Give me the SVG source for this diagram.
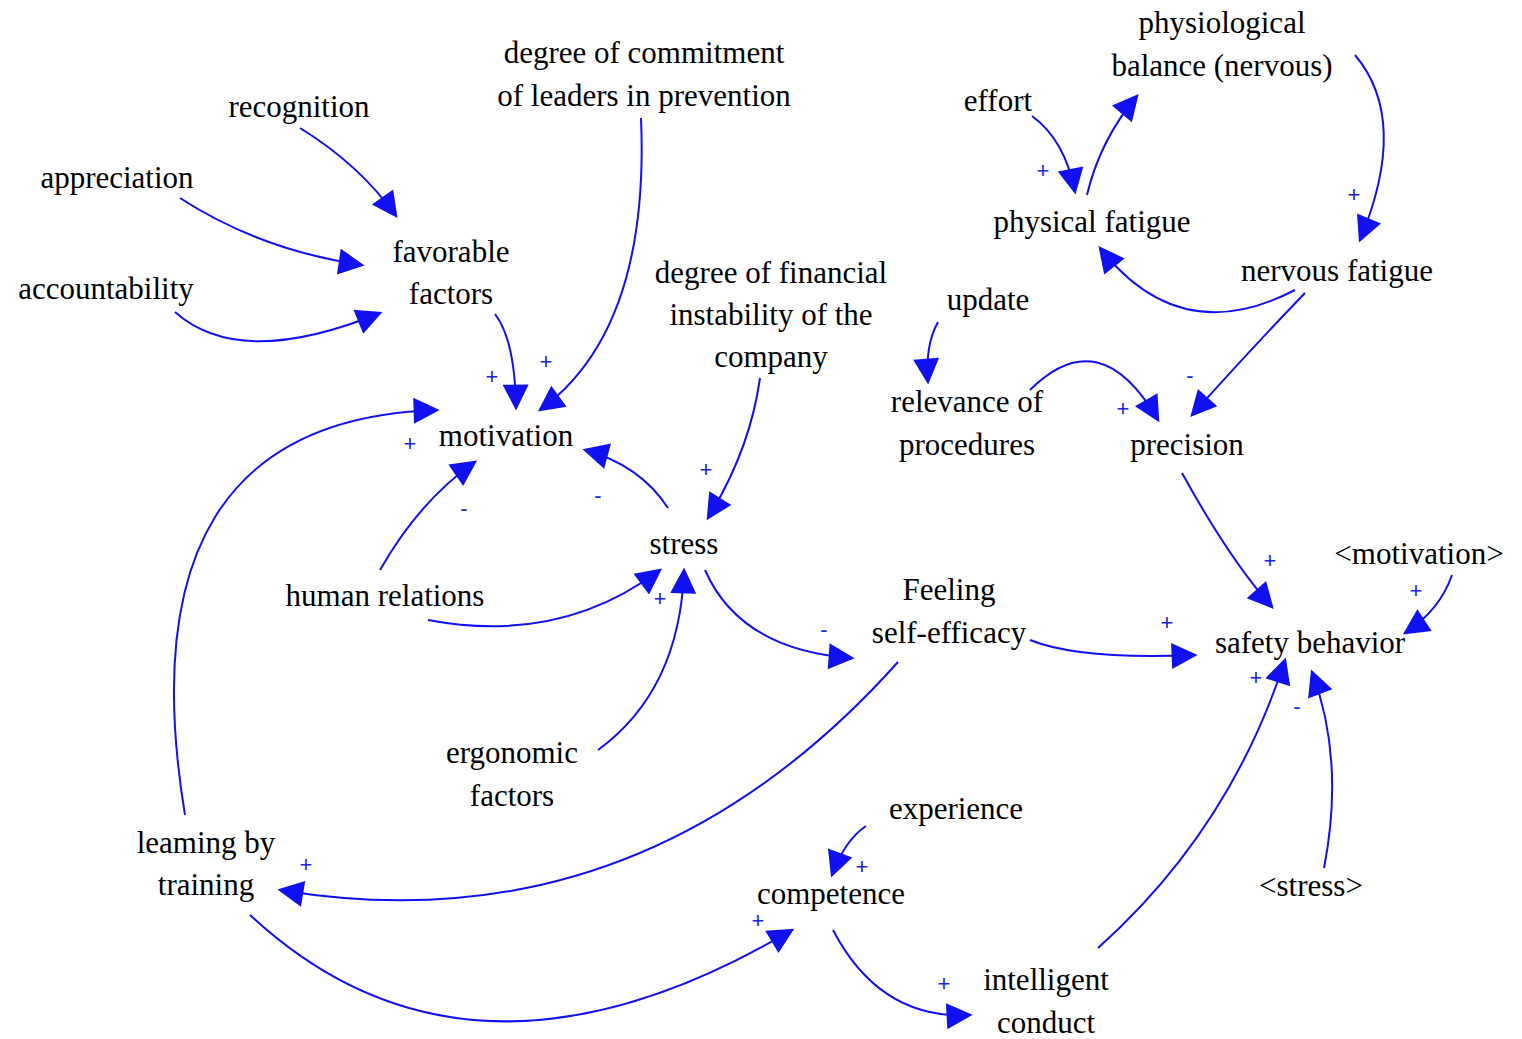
<svg xmlns="http://www.w3.org/2000/svg" width="1522" height="1039" viewBox="0 0 1522 1039">
<style>
.t{font-family:"Liberation Serif",serif;font-size:31px;fill:#000;text-anchor:middle}
.s{font-family:"Liberation Sans",sans-serif;font-size:22px;fill:#2020e0;text-anchor:middle}
.e path{fill:none;stroke:#1010f0;stroke-width:2;marker-end:url(#a)}
</style>
<defs><marker id="a" viewBox="0 0 10 10" refX="9" refY="5" markerWidth="11" markerHeight="11" markerUnits="userSpaceOnUse" orient="auto"><path d="M0,0 L10,5 L0,10 z" fill="#1010f0" transform="scale(1)"/></marker></defs>
<defs><marker id="b" viewBox="0 0 10 10" refX="9" refY="5" markerWidth="30" markerHeight="26" markerUnits="userSpaceOnUse" orient="auto"><path d="M0,0 L10,5 L0,10 z" fill="#1010f0"/></marker></defs>
<rect width="1522" height="1039" fill="#fff"/>
<g class="e" id="connectors" style="--m:url(#b)">
<path marker-end="url(#b)" style="marker-end:url(#b)" d="M300,128 Q360,165 396,216"/>
<path style="marker-end:url(#b)" d="M180,198 Q260,250 362,265"/>
<path style="marker-end:url(#b)" d="M175,312 Q240,370 380,313"/>
<path style="marker-end:url(#b)" d="M495,314 Q515,340 516,408"/>
<path style="marker-end:url(#b)" d="M641,118 Q650,330 540,410"/>
<path style="marker-end:url(#b)" d="M185,815 Q120,420 437,410"/>
<path style="marker-end:url(#b)" d="M380,570 Q420,500 475,462"/>
<path style="marker-end:url(#b)" d="M668,508 Q640,465 585,450"/>
<path style="marker-end:url(#b)" d="M760,378 Q750,450 708,518"/>
<path style="marker-end:url(#b)" d="M428,620 Q560,645 660,570"/>
<path style="marker-end:url(#b)" d="M598,750 Q680,690 684,570"/>
<path style="marker-end:url(#b)" d="M705,570 Q740,650 852,658"/>
<path style="marker-end:url(#b)" d="M1030,640 Q1080,660 1195,655"/>
<path style="marker-end:url(#b)" d="M898,662 Q640,950 280,890"/>
<path style="marker-end:url(#b)" d="M250,915 Q470,1120 792,930"/>
<path style="marker-end:url(#b)" d="M866,826 Q845,840 832,875"/>
<path style="marker-end:url(#b)" d="M833,930 Q880,1020 970,1015"/>
<path style="marker-end:url(#b)" d="M1098,948 Q1230,830 1285,660"/>
<path style="marker-end:url(#b)" d="M1324,868 Q1345,760 1312,672"/>
<path style="marker-end:url(#b)" d="M1452,575 Q1440,610 1405,633"/>
<path style="marker-end:url(#b)" d="M1182,473 Q1230,560 1272,607"/>
<path style="marker-end:url(#b)" d="M1032,116 Q1065,140 1075,192"/>
<path style="marker-end:url(#b)" d="M1087,195 Q1100,140 1137,96"/>
<path style="marker-end:url(#b)" d="M1355,55 Q1410,120 1360,240"/>
<path style="marker-end:url(#b)" d="M1295,290 Q1180,350 1100,248"/>
<path style="marker-end:url(#b)" d="M1305,293 Q1250,350 1192,415"/>
<path style="marker-end:url(#b)" d="M938,322 Q925,345 928,382"/>
<path style="marker-end:url(#b)" d="M1030,390 Q1100,320 1158,420"/>
</g>
<g id="signs">
<text class="s" x="492" y="384">+</text><text class="s" x="546" y="369">+</text>
<text class="s" x="410" y="451">+</text><text class="s" x="464" y="516">-</text>
<text class="s" x="598" y="503">-</text><text class="s" x="706" y="477">+</text>
<text class="s" x="660" y="606">+</text><text class="s" x="824" y="637">-</text>
<text class="s" x="1167" y="630">+</text><text class="s" x="306" y="872">+</text>
<text class="s" x="758" y="928">+</text><text class="s" x="862" y="874">+</text>
<text class="s" x="944" y="991">+</text><text class="s" x="1256" y="685">+</text>
<text class="s" x="1297" y="714">-</text><text class="s" x="1416" y="598">+</text>
<text class="s" x="1270" y="568">+</text><text class="s" x="1043" y="178">+</text>
<text class="s" x="1354" y="202">+</text><text class="s" x="1190" y="383">-</text>
<text class="s" x="1123" y="416">+</text>
</g>
<g id="physiological"><text class="t" x="1222" y="33">physiological</text><text class="t" x="1222" y="76">balance (nervous)</text></g>
<g id="commitment"><text class="t" x="644" y="63">degree of commitment</text><text class="t" x="644" y="106">of leaders in prevention</text></g>
<g id="recognition"><text class="t" x="299" y="117">recognition</text></g>
<g id="effort"><text class="t" x="998" y="111">effort</text></g>
<g id="appreciation"><text class="t" x="117" y="188">appreciation</text></g>
<g id="physical"><text class="t" x="1092" y="232">physical fatigue</text></g>
<g id="favorable"><text class="t" x="451" y="262">favorable</text><text class="t" x="451" y="304">factors</text></g>
<g id="financial"><text class="t" x="771" y="283">degree of financial</text><text class="t" x="771" y="325">instability of the</text><text class="t" x="771" y="367">company</text></g>
<g id="accountability"><text class="t" x="106" y="299">accountability</text></g>
<g id="nervous"><text class="t" x="1337" y="281">nervous fatigue</text></g>
<g id="update"><text class="t" x="988" y="310">update</text></g>
<g id="relevance"><text class="t" x="967" y="412">relevance of</text><text class="t" x="967" y="455">procedures</text></g>
<g id="precision"><text class="t" x="1187" y="455">precision</text></g>
<g id="motivation"><text class="t" x="506" y="446">motivation</text></g>
<g id="stress"><text class="t" x="684" y="554">stress</text></g>
<g id="motivation2"><text class="t" x="1419" y="564">&lt;motivation&gt;</text></g>
<g id="human"><text class="t" x="385" y="606">human relations</text></g>
<g id="selfefficacy"><text class="t" x="949" y="600">Feeling</text><text class="t" x="949" y="643">self-efficacy</text></g>
<g id="safety"><text class="t" x="1310" y="653">safety behavior</text></g>
<g id="ergonomic"><text class="t" x="512" y="763">ergonomic</text><text class="t" x="512" y="806">factors</text></g>
<g id="experience"><text class="t" x="956" y="819">experience</text></g>
<g id="learning"><text class="t" x="206" y="853">leaming by</text><text class="t" x="206" y="895">training</text></g>
<g id="stress2"><text class="t" x="1311" y="896">&lt;stress&gt;</text></g>
<g id="competence"><text class="t" x="831" y="904">competence</text></g>
<g id="intelligent"><text class="t" x="1046" y="990">intelligent</text><text class="t" x="1046" y="1033">conduct</text></g>
</svg>
